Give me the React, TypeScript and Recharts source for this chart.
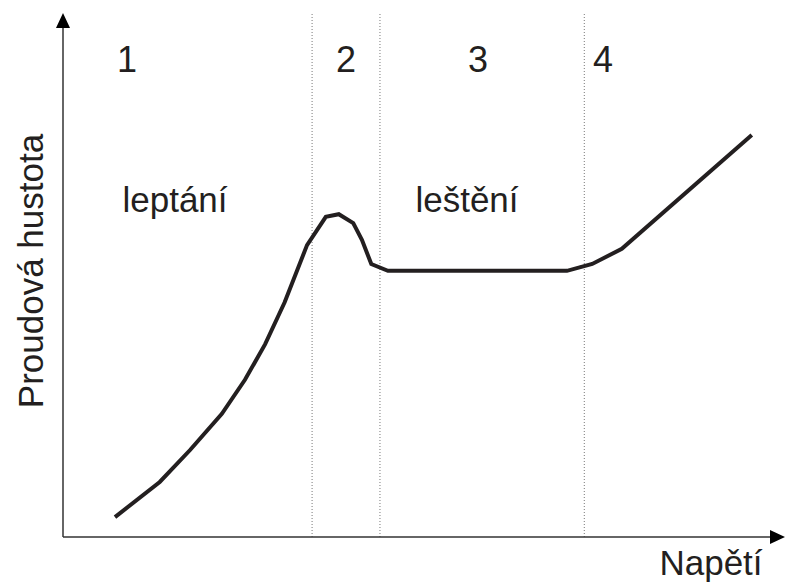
import React from "react";
import { LineChart, Line, XAxis, YAxis, ReferenceLine } from "recharts";

// Polarisation curve: current density versus voltage (arbitrary units 0–100)
const voltage = [7.2, 13.4, 17.6, 22.0, 25.2, 28.0, 30.7, 33.8, 36.4, 38.2, 40.2, 41.4, 42.7, 45.0, 69.8, 73.3, 77.4, 95.4];
const currentDensity = [3.8, 10.5, 16.6, 23.5, 30.0, 36.8, 44.8, 55.7, 61.1, 61.6, 59.9, 56.7, 52.1, 50.8, 50.8, 52.1, 55.0, 76.7];

// Region boundaries on the voltage axis
const boundaries = [34.5, 43.9, 72.2];

// Region numbers and their captions
const regionNumbers = ["1", "2", "3", "4"];
const regionCaptions = ["leptání", "leštění"];
const xTitle = "Napětí";
const yTitle = "Proudová hustota";

const data = voltage.map((v, i) => ({ v, j: currentDensity[i] }));

const W = 786;
const H = 583;
const M = { top: 13, right: 1, bottom: 46, left: 63 };
const font = "'Liberation Sans', Arial, sans-serif";

// Axis line with an arrowhead at its far end
const ArrowAxis = (props: any) => {
  const { x1, y1, x2, y2 } = props;
  const ang = Math.atan2(y2 - y1, x2 - x1);
  const len = 15;
  const half = 7;
  const bx = x2 - len * Math.cos(ang);
  const by = y2 - len * Math.sin(ang);
  const px = -Math.sin(ang) * half;
  const py = Math.cos(ang) * half;
  return (
    <g>
      <line x1={x1} y1={y1} x2={bx} y2={by} stroke="#333" strokeWidth={1.5} />
      <path d={`M${x2},${y2} L${bx + px},${by + py} L${bx - px},${by - py} Z`} fill="#000" />
    </g>
  );
};

export default function App() {
  return (
    <div style={{ position: "absolute", left: 0, top: 0, width: W, height: H, background: "#fff" }}>
      <LineChart width={W} height={H} data={data} margin={M}>
        <XAxis type="number" dataKey="v" domain={[0, 100]} hide />
        <YAxis type="number" domain={[0, 100]} hide />
        {boundaries.map((b) => (
          <ReferenceLine key={b} x={b} stroke="#777" strokeWidth={1} strokeDasharray="1 2" />
        ))}
        <ReferenceLine
          segment={[{ x: 0, y: 0 }, { x: 100, y: 0 }]}
          ifOverflow="visible"
          shape={ArrowAxis}
        />
        <ReferenceLine
          segment={[{ x: 0, y: 0 }, { x: 0, y: 100 }]}
          ifOverflow="visible"
          shape={ArrowAxis}
        />
        <Line
          type="linear"
          dataKey="j"
          stroke="#231f20"
          strokeWidth={4}
          dot={false}
          isAnimationActive={false}
        />
      </LineChart>
      <svg
        width={W}
        height={H}
        style={{ position: "absolute", left: 0, top: 0, pointerEvents: "none" }}
        fontFamily={font}
        fill="#231f20"
      >
        {[127, 346, 478, 603].map((x, i) => (
          <text key={i} x={x} y={72} fontSize={36} textAnchor="middle">
            {regionNumbers[i]}
          </text>
        ))}
        <text x={175} y={212} fontSize={35} textAnchor="middle">{regionCaptions[0]}</text>
        <text x={467} y={212} fontSize={35} textAnchor="middle">{regionCaptions[1]}</text>
        <text x={43} y={271} fontSize={35} textAnchor="middle" transform="rotate(-90 43 271)">
          {yTitle}
        </text>
        <text x={711} y={575} fontSize={35} textAnchor="middle">{xTitle}</text>
      </svg>
    </div>
  );
}
